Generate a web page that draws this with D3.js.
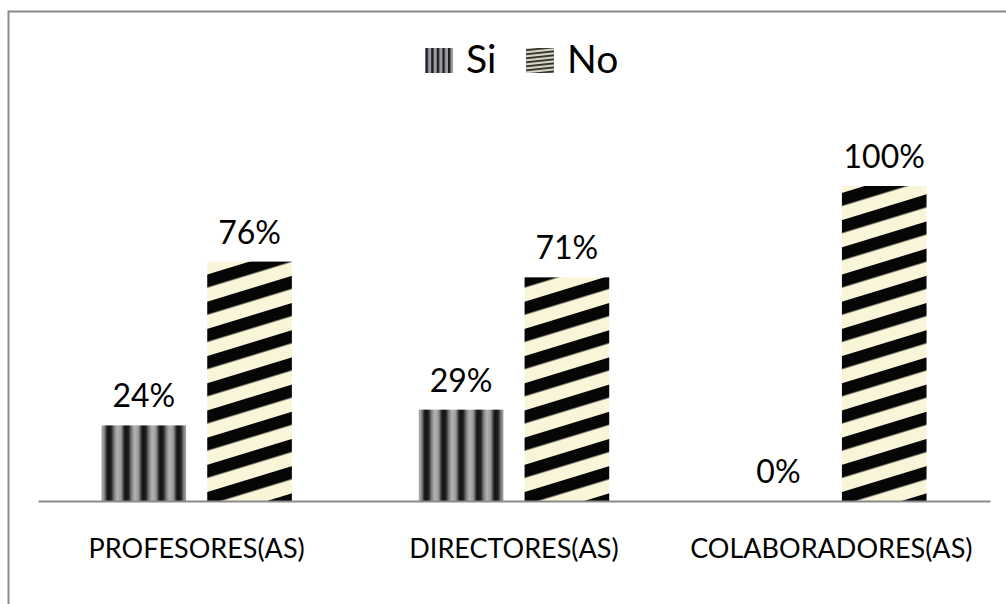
<!DOCTYPE html>
<html>
<head>
<meta charset="utf-8">
<script src="https://cdn.jsdelivr.net/npm/d3@7"></script>
<style>
  html, body { margin: 0; padding: 0; background: #fff; }
  svg { display: block; font-family: Lato, "Open Sans", sans-serif; }
</style>
</head>
<body>
<svg id="chart" width="1006" height="604"></svg>
<script>
// ---- data ----
const categories = ["PROFESORES(AS)", "DIRECTORES(AS)", "COLABORADORES(AS)"];
const seriesNames = ["Si", "No"];
const siValues = [24, 29, 0];
const noValues = [76, 71, 100];

const svg = d3.select("#chart");
const defs = svg.append("defs");

// Si: metallic vertical stripes
const gSi = defs.append("linearGradient").attr("id", "gradSi")
  .attr("x1", "0").attr("x2", "1").attr("y1", "0").attr("y2", "0");
[[0, "#101010"], [0.22, "#222"], [0.34, "#6f6f6f"], [0.55, "#b4b4b4"], [0.78, "#9a9a9a"], [0.9, "#4a4a4a"], [1, "#151515"]]
  .forEach(([o, c]) => gSi.append("stop").attr("offset", o).attr("stop-color", c));
const pSi = defs.append("pattern").attr("id", "patSi")
  .attr("patternUnits", "userSpaceOnUse").attr("width", 17.4).attr("height", 100);
pSi.append("rect").attr("width", 17.4).attr("height", 100).attr("fill", "url(#gradSi)");

// No: diagonal black / cream stripes
const pNo = defs.append("pattern").attr("id", "patNo")
  .attr("patternUnits", "userSpaceOnUse").attr("width", 200).attr("height", 26)
  .attr("patternTransform", "rotate(-17)");
pNo.append("rect").attr("width", 200).attr("height", 26).attr("fill", "#f9f5d9");
pNo.append("rect").attr("y", 0).attr("width", 200).attr("height", 12.5).attr("fill", "#060606");

// legend swatches (finer)
const pSiL = defs.append("pattern").attr("id", "patSiL")
  .attr("patternUnits", "userSpaceOnUse").attr("width", 5.6).attr("height", 30);
pSiL.append("rect").attr("width", 5.6).attr("height", 30).attr("fill", "#9a9aa0");
pSiL.append("rect").attr("width", 2.4).attr("height", 30).attr("fill", "#1e1e22");
const pNoL = defs.append("pattern").attr("id", "patNoL")
  .attr("patternUnits", "userSpaceOnUse").attr("width", 60).attr("height", 4)
  .attr("patternTransform", "rotate(-6)");
pNoL.append("rect").attr("width", 60).attr("height", 4).attr("fill", "#d8d6c0");
pNoL.append("rect").attr("width", 60).attr("height", 1.8).attr("fill", "#2a2a2a");

const fills = { Si: "url(#patSi)", No: "url(#patNo)" };

// frame (cropped: only top and left edges visible)
svg.append("path").attr("d", "M8.5,604 L8.5,11.5 L1006,11.5")
  .attr("fill", "none").attr("stroke", "#8a8a8a").attr("stroke-width", 2);

// scales
const x0 = d3.scaleBand().domain(categories).range([38, 990]).padding(0);
const x1 = d3.scaleBand().domain(seriesNames).range([0, x0.bandwidth()])
  .paddingInner(0.2).paddingOuter(0.6);
const y = d3.scaleLinear().domain([0, 100]).range([501, 186]);

const rows = categories.map((c, i) => ({ cat: c, vals: [
  { s: "Si", v: siValues[i] }, { s: "No", v: noValues[i] } ] }));

const groups = svg.append("g").selectAll("g").data(rows).join("g")
  .attr("transform", d => `translate(${x0(d.cat)},0)`);

groups.selectAll("rect").data(d => d.vals.filter(e => e.v > 0)).join("rect")
  .attr("x", d => x1(d.s))
  .attr("y", d => y(d.v))
  .attr("width", x1.bandwidth())
  .attr("height", d => y(0) - y(d.v))
  .attr("fill", d => fills[d.s]);

groups.selectAll("text.val").data(d => d.vals).join("text")
  .attr("class", "val")
  .attr("x", d => x1(d.s) + x1.bandwidth() / 2)
  .attr("y", d => y(d.v) - 18)
  .attr("text-anchor", "middle")
  .attr("font-size", 32)
  .attr("fill", "#000")
  .text(d => d.v + "%");

// x axis
const xAxis = d3.axisBottom(x0).tickSize(0).tickPadding(0);
const ax = svg.append("g").attr("transform", `translate(0,${y(0)})`).call(xAxis);
ax.select(".domain").attr("stroke", "#8a8a8a").attr("stroke-width", 2.2);
ax.selectAll(".tick text")
  .attr("dy", null).attr("y", 57)
  .attr("font-family", "Lato, 'Open Sans', sans-serif")
  .attr("font-size", 27).attr("fill", "#000");

// legend
const legendItems = [
  { s: "Si", sx: 425, tx: 466, fill: "url(#patSiL)" },
  { s: "No", sx: 526, tx: 567, fill: "url(#patNoL)" }
];
const lg = svg.append("g");
lg.selectAll("rect").data(legendItems).join("rect")
  .attr("x", d => d.sx).attr("y", 48).attr("width", 28).attr("height", 25)
  .attr("fill", d => d.fill);
lg.selectAll("text").data(legendItems).join("text")
  .attr("x", d => d.tx).attr("y", 73)
  .attr("font-size", 39).attr("fill", "#000")
  .text(d => d.s);
</script>
</body>
</html>
